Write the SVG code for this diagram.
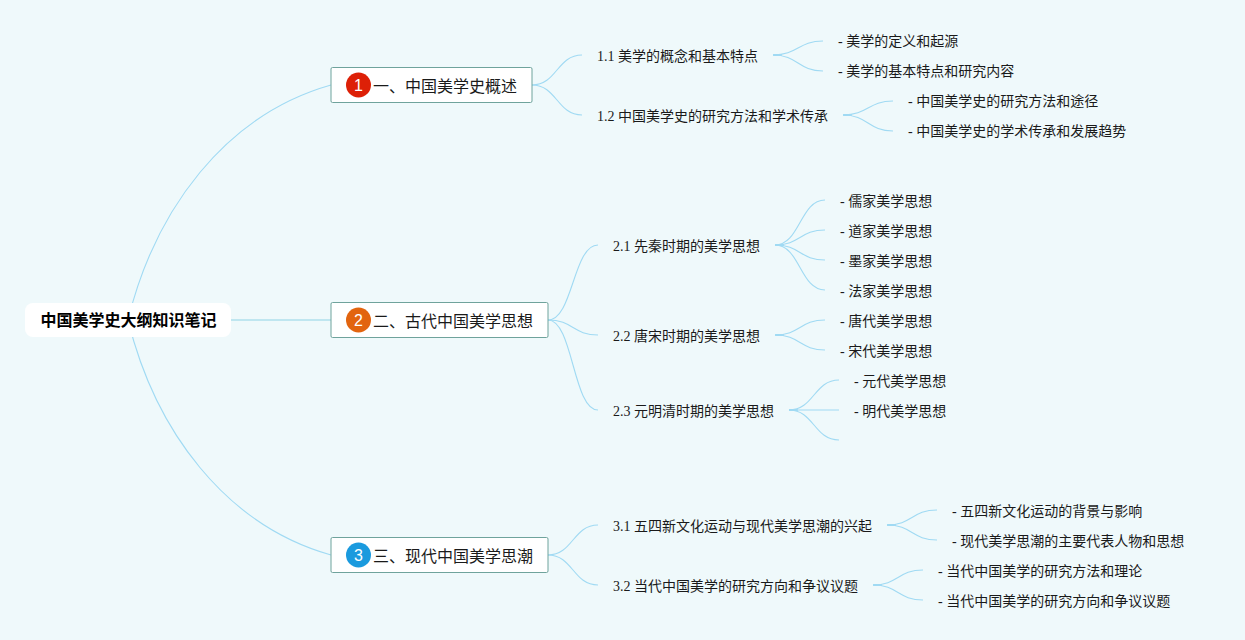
<svg xmlns="http://www.w3.org/2000/svg" width="1245" height="640" viewBox="0 0 1245 640">
<style>
text{font-family:"Liberation Serif","Noto Sans CJK SC",serif;fill:#1a1a1a}
.root{font-size:16px;font-weight:700;fill:#000}
.main{font-size:16px;fill:#1a1a1a}
.sub{font-size:14px}
.box{fill:#fff;stroke:#6fa39c;stroke-width:1}
.badge{font-family:"Liberation Sans",sans-serif;font-size:16px;fill:#fff;text-anchor:middle}
#connectors path{fill:none;stroke:#a0daf3;stroke-width:1.1}
#connectors path.stub{stroke-width:2.2;stroke-linecap:round}
#connectors path.trunk{stroke:#bfe6f0;stroke-width:2}
</style>
<rect width="1245" height="640" fill="#eff9fb"/>
<g id="connectors">
<path d="M128 320C155 210 225 115 331 85"/>
<path class="trunk" d="M231 320H331"/>
<path d="M128 320C155 430 225 525 331 555"/>
<path d="M532 85C557 85 557 55 582 55"/>
<path d="M532 85C557 85 557 115 582 115"/>
<path d="M548 320C573 320 573 245 598 245"/>
<path d="M548 320C573 320 573 335 598 335"/>
<path d="M548 320C573 320 573 410 598 410"/>
<path d="M548 555C573 555 573 525 598 525"/>
<path d="M548 555C573 555 573 585 598 585"/>
<path class="stub" d="M774 55H781"/>
<path d="M773 55C798 55 798 41 823 41"/>
<path d="M773 55C798 55 798 71 823 71"/>
<path class="stub" d="M844 115H851"/>
<path d="M843 115C868 115 868 101 893 101"/>
<path d="M843 115C868 115 868 131 893 131"/>
<path class="stub" d="M776 245H783"/>
<path d="M775 245C800 245 800 200 825 200"/>
<path d="M775 245C800 245 800 230 825 230"/>
<path d="M775 245C800 245 800 260 825 260"/>
<path d="M775 245C800 245 800 290 825 290"/>
<path class="stub" d="M776 335H783"/>
<path d="M775 335C800 335 800 320 825 320"/>
<path d="M775 335C800 335 800 350 825 350"/>
<path class="stub" d="M790 410H797"/>
<path d="M789 410C814 410 814 380 839 380"/>
<path d="M789 410H839"/>
<path d="M789 410C814 410 814 440 839 440"/>
<path class="stub" d="M888 525H895"/>
<path d="M887 525C912 525 912 510 937 510"/>
<path d="M887 525C912 525 912 540 937 540"/>
<path class="stub" d="M874 585H881"/>
<path d="M873 585C898 585 898 570 923 570"/>
<path d="M873 585C898 585 898 600 923 600"/>
</g>
<g id="root"><rect x="25" y="303" width="206" height="34" rx="8" fill="#fff"/><text class="root" x="40.500" y="326">中国美学史大纲知识笔记</text></g>
<g id="n1"><rect class="box" x="331" y="67.500" width="201" height="35" rx="1.500"/><circle cx="358.500" cy="85" r="12.500" fill="#dd2007"/><text class="badge" x="358.500" y="91">1</text><text class="main" x="373" y="92">一、中国美学史概述</text></g>
<g id="n2"><rect class="box" x="331" y="302.500" width="217" height="35" rx="1.500"/><circle cx="358.500" cy="320" r="12.500" fill="#e2640f"/><text class="badge" x="358.500" y="326">2</text><text class="main" x="373" y="327">二、古代中国美学思想</text></g>
<g id="n3"><rect class="box" x="331" y="537.500" width="217" height="35" rx="1.500"/><circle cx="358.500" cy="555" r="12.500" fill="#1a9ade"/><text class="badge" x="358.500" y="561">3</text><text class="main" x="373" y="562">三、现代中国美学思潮</text></g>
<g id="n11"><text class="sub" x="597" y="61">1.1 美学的概念和基本特点</text></g>
<g id="n111"><text class="sub" x="838" y="46">- 美学的定义和起源</text></g>
<g id="n112"><text class="sub" x="838" y="76">- 美学的基本特点和研究内容</text></g>
<g id="n12"><text class="sub" x="597" y="121">1.2 中国美学史的研究方法和学术传承</text></g>
<g id="n121"><text class="sub" x="908" y="106">- 中国美学史的研究方法和途径</text></g>
<g id="n122"><text class="sub" x="908" y="136">- 中国美学史的学术传承和发展趋势</text></g>
<g id="n21"><text class="sub" x="613" y="251">2.1 先秦时期的美学思想</text></g>
<g id="n211"><text class="sub" x="840" y="206">- 儒家美学思想</text></g>
<g id="n212"><text class="sub" x="840" y="236">- 道家美学思想</text></g>
<g id="n213"><text class="sub" x="840" y="266">- 墨家美学思想</text></g>
<g id="n214"><text class="sub" x="840" y="296">- 法家美学思想</text></g>
<g id="n22"><text class="sub" x="613" y="341">2.2 唐宋时期的美学思想</text></g>
<g id="n221"><text class="sub" x="840" y="326">- 唐代美学思想</text></g>
<g id="n222"><text class="sub" x="840" y="356">- 宋代美学思想</text></g>
<g id="n23"><text class="sub" x="613" y="416">2.3 元明清时期的美学思想</text></g>
<g id="n231"><text class="sub" x="854" y="386">- 元代美学思想</text></g>
<g id="n232"><text class="sub" x="854" y="416">- 明代美学思想</text></g>
<g id="n31"><text class="sub" x="613" y="531">3.1 五四新文化运动与现代美学思潮的兴起</text></g>
<g id="n311"><text class="sub" x="952" y="516">- 五四新文化运动的背景与影响</text></g>
<g id="n312"><text class="sub" x="952" y="546">- 现代美学思潮的主要代表人物和思想</text></g>
<g id="n32"><text class="sub" x="613" y="591">3.2 当代中国美学的研究方向和争议议题</text></g>
<g id="n321"><text class="sub" x="938" y="576">- 当代中国美学的研究方法和理论</text></g>
<g id="n322"><text class="sub" x="938" y="606">- 当代中国美学的研究方向和争议议题</text></g>
</svg>
